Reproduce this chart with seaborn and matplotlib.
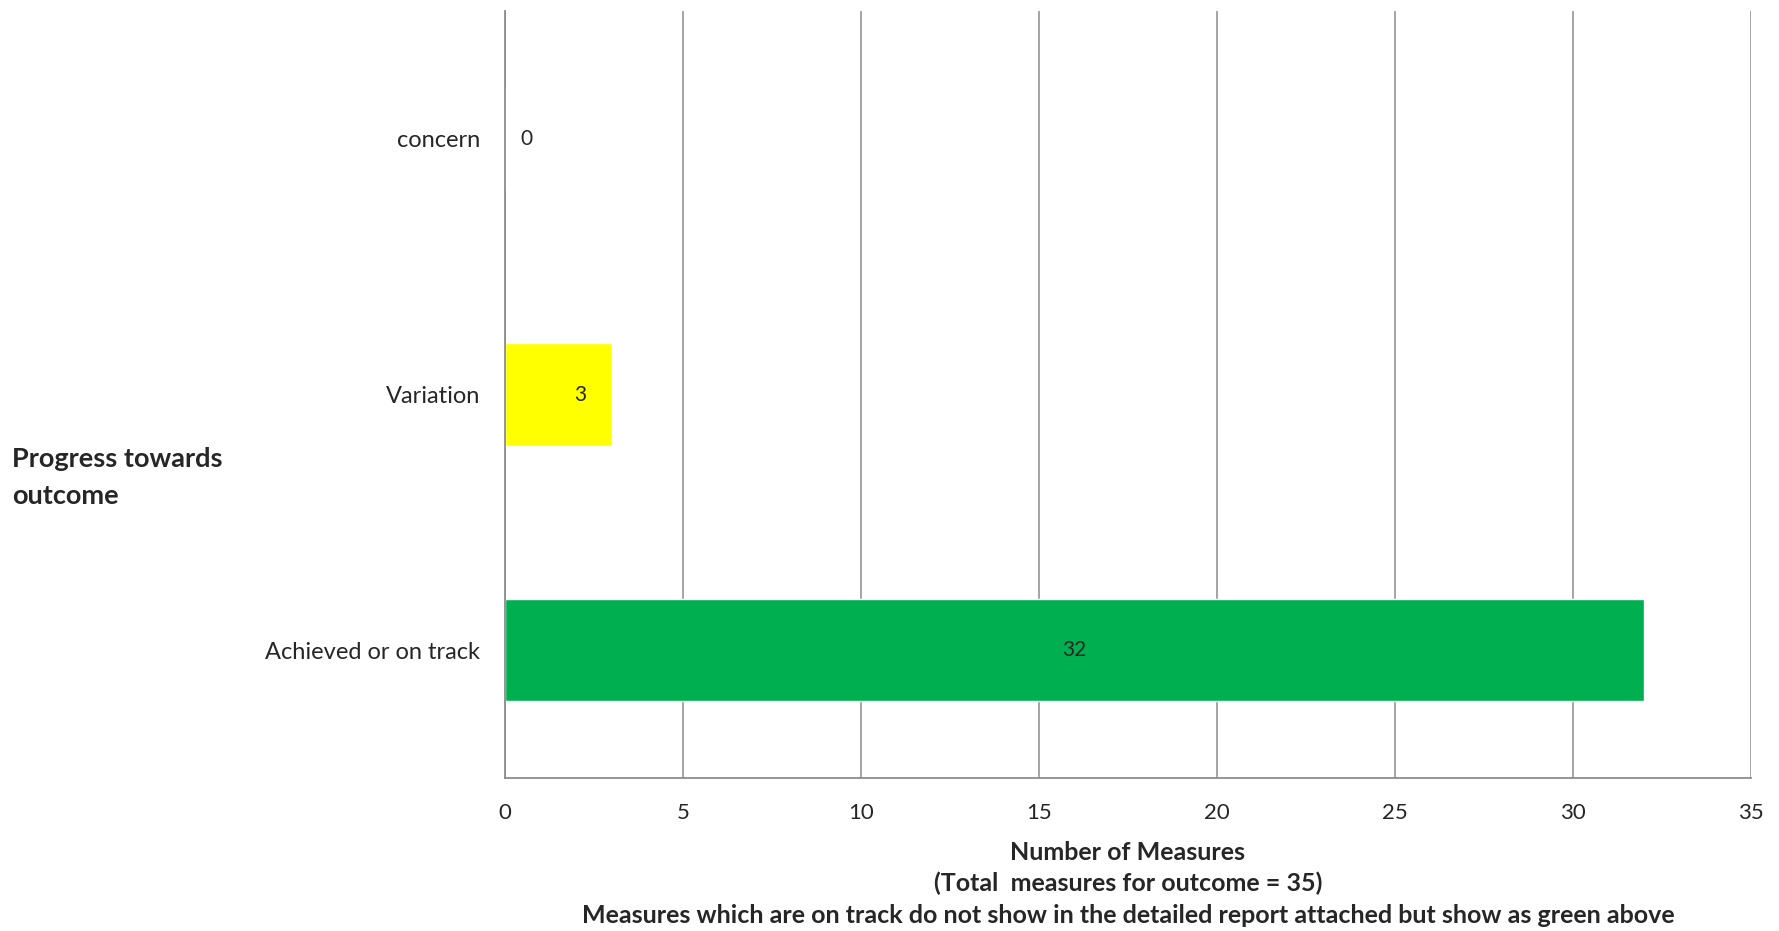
import pandas as pd
import matplotlib.pyplot as plt
import seaborn as sns
from matplotlib.ticker import FixedLocator

# data
categories = ["concern", "Variation", "Achieved or on track"]
measures = [0, 3, 32]
bar_colors = ["#FF0000", "#FFFF00", "#00B050"]

df = pd.DataFrame({"status": categories, "measures": measures})

sns.set_style("white")
plt.rcParams['font.family'] = ['Lato', 'DejaVu Sans']

fig = plt.figure(figsize=(17.79, 9.31), dpi=100)
ax = fig.add_axes([0.284, 0.1643, 0.700, 0.8237])

sns.barplot(data=df, x="measures", y="status", hue="status", palette=bar_colors,
            order=categories, width=0.4, legend=False, ax=ax, saturation=1)

ax.set_xlim(0, 35)
ax.set_ylim(2.5, -0.5)
ax.set_xticks(range(0, 36, 5))
ax.grid(axis='x', color='#8c8c8c', linewidth=1.1)
ax.set_axisbelow(True)

for s in ['top', 'right']:
    ax.spines[s].set_visible(False)
for s in ['left', 'bottom']:
    ax.spines[s].set_color('#8c8c8c')
    ax.spines[s].set_linewidth(1.3)

ax.tick_params(axis='x', length=6, color='#8c8c8c', labelsize=16, pad=12)
ax.tick_params(axis='y', which='major', length=0, labelsize=17, pad=18)
ax.yaxis.set_minor_locator(FixedLocator([-0.5, 0.5, 1.5, 2.5]))
ax.tick_params(axis='y', which='minor', length=6, color='#8c8c8c')

# value labels inside bars
for i, v in enumerate(measures):
    xpos = v / 2 if v > 10 else v / 2 + 0.6
    ax.text(xpos, i, str(v), ha='center', va='center', fontsize=15)

ax.set_xlabel("")
ax.set_ylabel("")

fig.text(0.007, 0.487, "Progress towards\noutcome", fontsize=19.5, fontweight='bold',
         ha='left', va='center', linespacing=1.62)

bottom_lines = ["Number of Measures",
                "(Total  measures for outcome = 35)",
                "Measures which are on track do not show in the detailed report attached but show as green above"]
for yy, txt in zip([0.0845, 0.0516, 0.0163], bottom_lines):
    fig.text(0.634, yy, txt, fontsize=18, fontweight='bold', ha='center', va='center')

fig.savefig("out.png", dpi=100)
